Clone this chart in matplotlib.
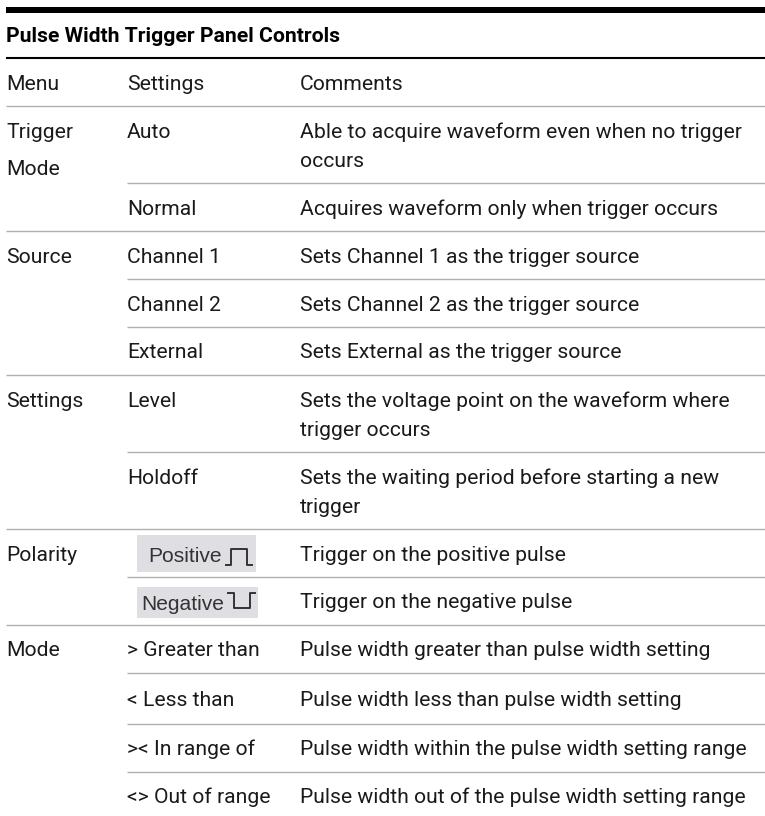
import matplotlib
matplotlib.use('Agg')
import matplotlib.pyplot as plt
from matplotlib.patches import Rectangle

# Table text
title = 'Pulse Width Trigger Panel Controls'
header = ['Menu', 'Settings', 'Comments']
menu = ['Trigger', 'Mode', 'Source', 'Settings', 'Polarity', 'Mode']
settings = ['Auto', 'Normal', 'Channel 1', 'Channel 2', 'External', 'Level', 'Holdoff',
            '> Greater than', '< Less than', '>< In range of', '<> Out of range']
comments = ['Able to acquire waveform even when no trigger', 'occurs',
            'Acquires waveform only when trigger occurs',
            'Sets Channel 1 as the trigger source',
            'Sets Channel 2 as the trigger source',
            'Sets External as the trigger source',
            'Sets the voltage point on the waveform where', 'trigger occurs',
            'Sets the waiting period before starting a new', 'trigger',
            'Trigger on the positive pulse',
            'Trigger on the negative pulse',
            'Pulse width greater than pulse width setting',
            'Pulse width less than pulse width setting',
            'Pulse width within the pulse width setting range',
            'Pulse width out of the pulse width setting range']
icons = ['Positive', 'Negative']

# Layout, baselines in pixels of the page
menu_y = [138, 175, 263, 407, 561, 656]
settings_y = [138, 215, 263, 311, 358, 407, 484, 656, 706, 755, 803]
comments_y = [138, 167, 215, 263, 311, 358, 407, 436, 484, 513, 561, 608, 656, 706, 755, 803]
full_rules = [106, 231, 375, 529, 625]
short_rules = [183, 279, 327, 452, 577, 673, 724, 772]
X_MENU, X_SET, X_COM, X_END = 6, 127, 300, 765

px = 0.72
ink = '#1a1a1a'
grey = '#333333'

fig = plt.figure(figsize=(7.65, 8.16), dpi=100)
ax = fig.add_axes([0, 0, 1, 1])
ax.set_xlim(0, 765)
ax.set_ylim(816, 0)
ax.axis('off')

ax.add_patch(Rectangle((X_MENU, 7), X_END - X_MENU, 6, color='black', lw=0))
ax.plot([X_MENU, X_END], [58, 58], color='black', lw=1.5, solid_capstyle='butt')
for y in full_rules:
    ax.plot([X_MENU, X_END], [y, y], color='#b0b0b0', lw=1, solid_capstyle='butt')
for y in short_rules:
    ax.plot([X_SET, X_END], [y, y], color='#b0b0b0', lw=1, solid_capstyle='butt')


def put(x, y, s):
    ax.text(x, y, s, family='Roboto', fontsize=21.2 * px, color=ink, va='baseline')


ax.text(X_MENU, 41.5, title, family='Roboto', fontsize=21.2 * px, weight='bold',
        color='black', va='baseline')
for x, s in zip([X_MENU, X_SET, X_COM], header):
    put(x, 90, s)
for y, s in zip(menu_y, menu):
    put(X_MENU, y, s)
for y, s in zip(settings_y, settings):
    put(X_SET, y, s)
for y, s in zip(comments_y, comments):
    put(X_COM, y, s)

# Screenshot style buttons in the Polarity row
ax.add_patch(Rectangle((137, 535), 119, 37, color='#dfdfe3', lw=0))
ax.add_patch(Rectangle((137, 587), 121, 31, color='#dfdfe3', lw=0))
ax.text(148, 561.5, icons[0], family='Liberation Sans', fontsize=21 * px, color=grey, va='baseline')
ax.text(141, 610.5, icons[1], family='Liberation Sans', fontsize=21 * px, color=grey, va='baseline')
ax.plot([226, 231, 231, 247, 247, 252], [565, 565, 549, 549, 565, 565], color=grey, lw=1.4)
ax.plot([228, 234, 234, 250, 250, 255], [593, 593, 608, 608, 593, 593], color=grey, lw=1.4)

fig.savefig('out.png', dpi=100)
